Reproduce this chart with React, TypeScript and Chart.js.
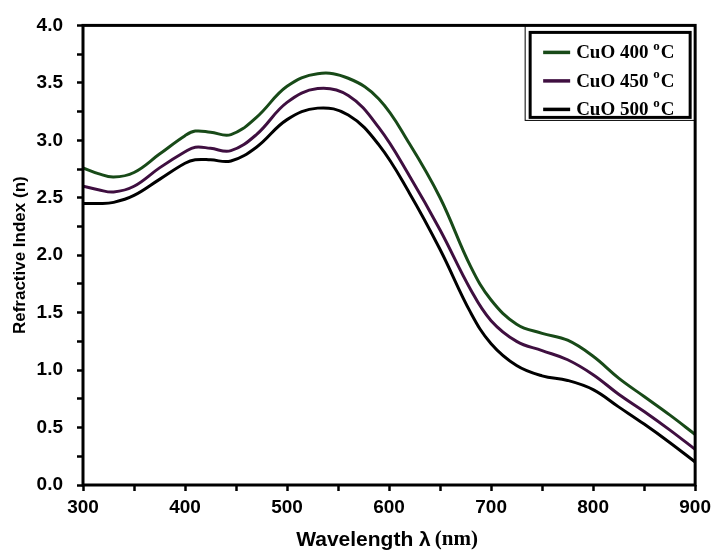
import React, { useEffect, useRef } from "react";
import { Chart, registerables } from "chart.js";

Chart.register(...registerables);

const wavelengths = [300, 315, 330, 350, 375, 400, 410, 425, 445, 470, 500, 530, 560, 590, 620, 650, 680, 700, 725, 750, 775, 800, 825, 850, 875, 900];
const cuo400 = [2.76, 2.71, 2.68, 2.72, 2.88, 3.04, 3.08, 3.07, 3.05, 3.2, 3.47, 3.58, 3.54, 3.36, 2.97, 2.5, 1.9, 1.61, 1.4, 1.32, 1.26, 1.12, 0.93, 0.77, 0.61, 0.44];
const cuo450 = [2.6, 2.57, 2.55, 2.6, 2.76, 2.9, 2.94, 2.93, 2.91, 3.05, 3.33, 3.45, 3.39, 3.11, 2.69, 2.22, 1.7, 1.43, 1.25, 1.17, 1.09, 0.96, 0.79, 0.64, 0.48, 0.31];
const cuo500 = [2.45, 2.45, 2.46, 2.52, 2.66, 2.8, 2.83, 2.83, 2.82, 2.94, 3.18, 3.28, 3.22, 2.96, 2.54, 2.05, 1.5, 1.23, 1.04, 0.95, 0.91, 0.83, 0.68, 0.53, 0.37, 0.2];
const seriesLabels = ["CuO 400", "CuO 450", "CuO 500"];
const seriesColors = ["#184a18", "#3f0f40", "#000000"];
const xTitle = "Wavelength \u03bb";
const xUnit = "(nm)";
const yTitle = "Refractive Index (n)";

const SANS = "'Liberation Sans', Arial, sans-serif";
const SERIF = "'Liberation Serif', 'Times New Roman', serif";

const decorPlugin = {
  id: "decor",
  afterDraw(chart: any) {
    const { ctx, chartArea } = chart;
    const { left, right, top, bottom } = chartArea;
    ctx.save();
    // frame
    ctx.strokeStyle = "#000";
    ctx.lineWidth = 3;
    ctx.strokeRect(left, top, right - left, bottom - top);

    // y title
    ctx.save();
    ctx.translate(20, (top + bottom) / 2);
    ctx.rotate(-Math.PI / 2);
    ctx.font = `bold 17px ${SANS}`;
    ctx.fillStyle = "#000";
    ctx.textAlign = "center";
    ctx.textBaseline = "middle";
    ctx.fillText(yTitle, 0, 0);
    ctx.restore();

    // x title (mixed fonts)
    ctx.textBaseline = "middle";
    ctx.textAlign = "left";
    ctx.fillStyle = "#000";
    ctx.font = `bold 21px ${SANS}`;
    const w1 = ctx.measureText(xTitle).width;
    ctx.font = `bold 21px ${SERIF}`;
    const w2 = ctx.measureText(xUnit).width;
    const gap = 4;
    const cx = (left + right) / 2 - 2;
    const startX = cx - (w1 + gap + w2) / 2;
    const ty = bottom + 55;
    ctx.font = `bold 21px ${SANS}`;
    ctx.fillText(xTitle, startX, ty);
    ctx.font = `bold 21px ${SERIF}`;
    ctx.fillText(xUnit, startX + w1 + gap, ty);

    // legend
    ctx.lineWidth = 1;
    ctx.strokeRect(right - 170, top, 170, 95);
    const lx0 = right - 165;
    const ly0 = top + 7;
    ctx.lineWidth = 3;
    ctx.strokeRect(lx0, ly0, 160, 85);
    seriesLabels.forEach((lab, i) => {
      const ry = top + 27 + i * 28.5;
      ctx.strokeStyle = seriesColors[i];
      ctx.lineWidth = 3.5;
      ctx.beginPath();
      ctx.moveTo(lx0 + 13, ry);
      ctx.lineTo(lx0 + 40, ry);
      ctx.stroke();
      ctx.fillStyle = "#000";
      ctx.textBaseline = "middle";
      ctx.font = `bold 19px ${SERIF}`;
      let tx = lx0 + 46;
      const main = lab + " ";
      ctx.fillText(main, tx, ry + 1);
      tx += ctx.measureText(main).width;
      ctx.font = `bold 13px ${SERIF}`;
      ctx.fillText("o", tx, ry - 6);
      tx += ctx.measureText("o").width + 1;
      ctx.font = `bold 19px ${SERIF}`;
      ctx.fillText("C", tx, ry + 1);
    });
    ctx.restore();
  },
};

export default function App() {
  const ref = useRef<HTMLCanvasElement | null>(null);
  useEffect(() => {
    if (!ref.current) return;
    const datasets = [cuo400, cuo450, cuo500].map((vals, i) => ({
      label: seriesLabels[i],
      data: wavelengths.map((x, j) => ({ x, y: vals[j] })),
      borderColor: seriesColors[i],
      borderWidth: 3,
      pointRadius: 0,
      fill: false,
      tension: 0.4,
    }));
    const chart = new Chart(ref.current, {
      type: "line",
      data: { datasets },
      plugins: [decorPlugin],
      options: {
        animation: false,
        responsive: false,
        layout: { padding: { left: 0, right: 19, top: 15, bottom: 0 } },
        plugins: { legend: { display: false }, tooltip: { enabled: false } },
        scales: {
          x: {
            type: "linear",
            min: 300,
            max: 900,
            afterFit: (s: any) => {
              s.height = 66;
            },
            ticks: {
              stepSize: 50,
              autoSkip: false,
              maxRotation: 0,
              padding: 5,
              color: "#000",
              font: { family: SANS, weight: "bold", size: 19 },
              callback: (v: any) => (Number(v) % 100 === 0 ? String(v) : ""),
            },
            grid: { drawOnChartArea: false, drawTicks: true, tickLength: 6, tickWidth: 2.5, tickColor: "#000", color: "#000" },
            border: { display: false },
          },
          y: {
            type: "linear",
            min: 0,
            max: 4,
            afterFit: (s: any) => {
              s.width = 83;
            },
            ticks: {
              stepSize: 0.25,
              autoSkip: false,
              padding: 14,
              color: "#000",
              font: { family: SANS, weight: "bold", size: 19 },
              callback: (v: any) => {
                const n = Number(v);
                return Math.abs(n * 2 - Math.round(n * 2)) < 1e-6 ? n.toFixed(1) : "";
              },
            },
            grid: { drawOnChartArea: false, drawTicks: true, tickLength: 6, tickWidth: 2.5, tickColor: "#000", color: "#000" },
            border: { display: false },
          },
        },
      } as any,
    });
    return () => chart.destroy();
  }, []);
  return (
    <div style={{ position: "fixed", left: 0, top: 0, width: 716, height: 551, background: "#fff" }}>
      <canvas ref={ref} width={716} height={551} style={{ display: "block", width: 716, height: 551 }} />
    </div>
  );
}
